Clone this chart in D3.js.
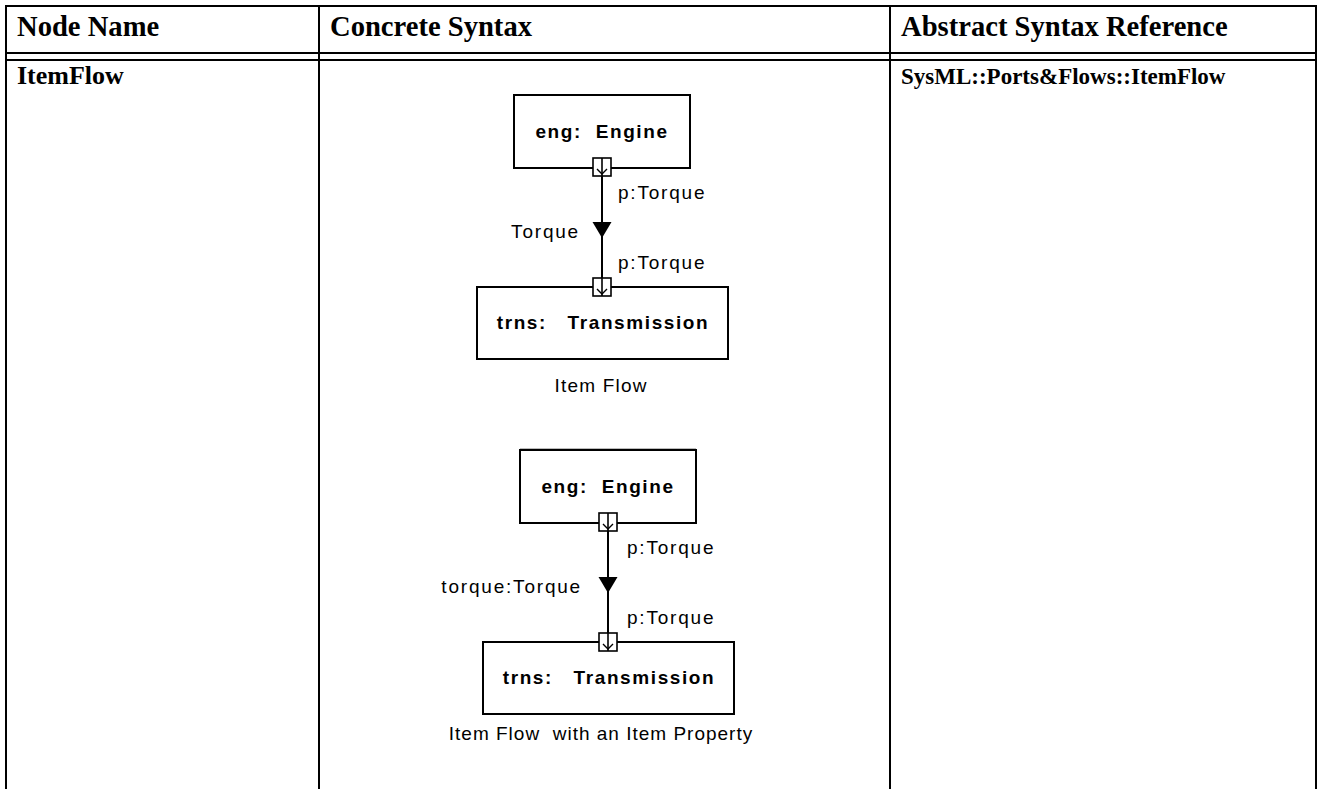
<!DOCTYPE html>
<html><head><meta charset="utf-8">
<script src="https://cdn.jsdelivr.net/npm/d3@7"></script>
<style>html,body{margin:0;padding:0;background:#fff;}svg{display:block;}text{white-space:pre;}</style>
</head><body>
<script>
// ---- data ----
const headers = ["Node Name", "Concrete Syntax", "Abstract Syntax Reference"];
const rowCells = ["ItemFlow", "", "SysML::Ports&Flows::ItemFlow"];
const sourceParts = ["eng:  Engine", "eng:  Engine"];
const targetParts = ["trns:   Transmission", "trns:   Transmission"];
const flowLabels = ["Torque", "torque:Torque"];
const portLabels = ["p:Torque", "p:Torque"];
const captions = ["Item Flow", "Item Flow  with an Item Property"];

// ---- layout ----
const W = 1322, H = 789;
const svg = d3.select("body").append("svg").attr("width", W).attr("height", H);

const colEdges = [6, 319, 890, 1316];
const x = d3.scaleOrdinal().domain(headers).range(colEdges.slice(0, 3));

const g = svg.append("g");
const stroke = "#000";
// table lines
g.append("line").attr("x1", colEdges[0]-1).attr("x2", colEdges[3]+1).attr("y1", 6).attr("y2", 6).attr("stroke", stroke).attr("stroke-width", 2);
[53, 60].forEach(y => g.append("line").attr("x1", colEdges[0]).attr("x2", colEdges[3]).attr("y1", y).attr("y2", y).attr("stroke", stroke).attr("stroke-width", 2));
colEdges.forEach(cx => g.append("line").attr("x1", cx).attr("x2", cx).attr("y1", 5).attr("y2", H).attr("stroke", stroke).attr("stroke-width", 2));

const serif = "'Liberation Serif','Times New Roman',serif";
const cellSizes = [26, 26, 23];
g.selectAll("text.hdr").data(headers).join("text").attr("class", "hdr")
  .attr("x", d => x(d) + 11).attr("y", 36)
  .attr("font-family", serif).attr("font-weight", "bold").attr("font-size", 28.6)
  .text(d => d);
g.selectAll("text.cell").data(rowCells).join("text").attr("class", "cell")
  .attr("x", (d, i) => x(headers[i]) + 11).attr("y", 84)
  .attr("font-family", serif).attr("font-weight", "bold").attr("font-size", (d, i) => cellSizes[i])
  .text(d => d);

// ---- diagrams ----
const sans = "'Liberation Sans',Arial,Helvetica,sans-serif";
const anchors = [{cx: 602, top: 95}, {cx: 608, top: 450}];
const portLabelDx = [16, 19];
const flowLabelDx = [22, 26];

function port(sel, cx, y) {
  sel.append("rect").attr("x", cx - 9).attr("y", y - 9).attr("width", 18).attr("height", 18)
    .attr("fill", "#fff").attr("stroke", stroke).attr("stroke-width", 1.6);
  sel.append("line").attr("x1", cx).attr("x2", cx).attr("y1", y - 9).attr("y2", y + 9).attr("stroke", stroke).attr("stroke-width", 1.6);
  sel.append("path").attr("d", `M${cx-5},${y+2}L${cx},${y+7}L${cx+5},${y+2}`).attr("fill", "none").attr("stroke", stroke).attr("stroke-width", 1.4);
}

sourceParts.forEach((src, i) => {
  const {cx, top} = anchors[i];
  const d = svg.append("g");
  // flow line
  d.append("line").attr("x1", cx).attr("x2", cx).attr("y1", top + 72).attr("y2", top + 192).attr("stroke", stroke).attr("stroke-width", 2);
  // source block
  d.append("rect").attr("x", cx - 88).attr("y", top).attr("width", 176).attr("height", 73)
    .attr("fill", "#fff").attr("stroke", stroke).attr("stroke-width", 2);
  d.append("text").attr("x", cx).attr("y", top + 36).attr("text-anchor", "middle").attr("dominant-baseline", "central")
    .attr("font-family", sans).attr("font-weight", "bold").attr("font-size", 19).attr("letter-spacing", 1.6)
    .text(src);
  // target block
  d.append("rect").attr("x", cx - 125).attr("y", top + 192).attr("width", 251).attr("height", 72)
    .attr("fill", "#fff").attr("stroke", stroke).attr("stroke-width", 2);
  d.append("text").attr("x", cx + 1).attr("y", top + 227).attr("text-anchor", "middle").attr("dominant-baseline", "central")
    .attr("font-family", sans).attr("font-weight", "bold").attr("font-size", 19).attr("letter-spacing", 1.6)
    .text(targetParts[i]);
  // ports
  port(d, cx, top + 72);
  port(d, cx, top + 192);
  // arrow head
  d.append("path").attr("d", `M${cx-9.5},${top+127}L${cx+9.5},${top+127}L${cx},${top+143}Z`).attr("fill", stroke);
  // labels
  [97, 167.5].forEach(dy => d.append("text").attr("x", cx + portLabelDx[i]).attr("y", top + dy)
    .attr("dominant-baseline", "central").attr("font-family", sans).attr("font-size", 19).attr("letter-spacing", 1.8)
    .text(portLabels[i]));
  d.append("text").attr("x", cx - flowLabelDx[i]).attr("y", top + 136.5).attr("text-anchor", "end")
    .attr("dominant-baseline", "central").attr("font-family", sans).attr("font-size", 19).attr("letter-spacing", 1.8)
    .text(flowLabels[i]);
  d.append("text").attr("x", 601).attr("y", top + (i === 0 ? 290 : 283)).attr("text-anchor", "middle")
    .attr("dominant-baseline", "central").attr("font-family", sans).attr("font-size", 19).attr("letter-spacing", i === 0 ? 1.2 : 1.0)
    .text(captions[i]);
});
// faint separator above second diagram
svg.append("line").attr("x1", 520).attr("x2", 696).attr("y1", 448.5).attr("y2", 448.5).attr("stroke", "#bbb").attr("stroke-width", 1);
</script>
</body></html>
